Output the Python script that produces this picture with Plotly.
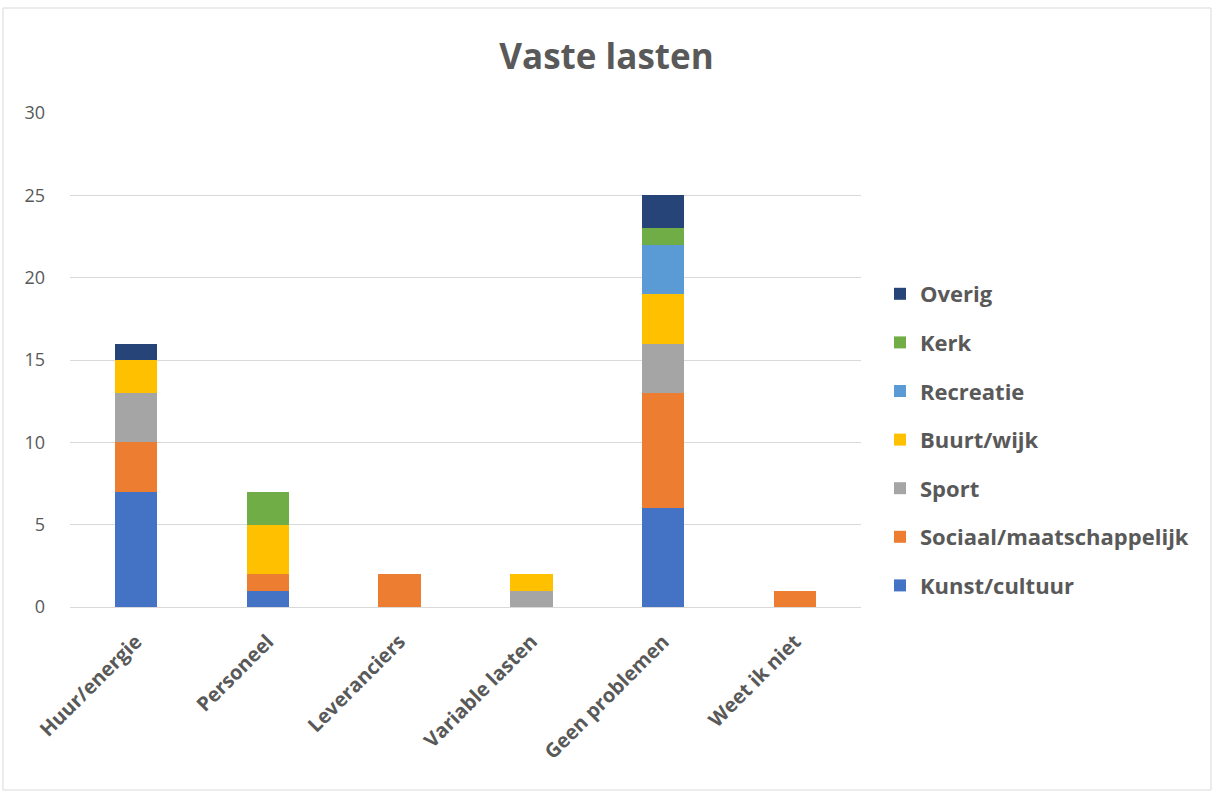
import plotly.graph_objects as go

categories = ["Huur/energie", "Personeel", "Leveranciers", "Variable lasten", "Geen problemen", "Weet ik niet"]
kunst = [7, 1, 0, 0, 6, 0]
sociaal = [3, 1, 2, 0, 7, 1]
sport = [3, 0, 0, 1, 3, 0]
buurt = [2, 3, 0, 1, 3, 0]
recreatie = [0, 0, 0, 0, 3, 0]
kerk = [0, 2, 0, 0, 1, 0]
overig = [1, 0, 0, 0, 2, 0]

series = [
    ("Kunst/cultuur", kunst, "#4472C4"),
    ("Sociaal/maatschappelijk", sociaal, "#ED7D31"),
    ("Sport", sport, "#A5A5A5"),
    ("Buurt/wijk", buurt, "#FFC000"),
    ("Recreatie", recreatie, "#5B9BD5"),
    ("Kerk", kerk, "#70AD47"),
    ("Overig", overig, "#264478"),
]

fig = go.Figure()
for i, (name, vals, col) in enumerate(series):
    fig.add_trace(go.Bar(name=name, x=categories, y=vals, marker=dict(color=col, line=dict(width=0)),
                         legendgroup=name, legendrank=1000 - i))

W, H = 1213, 792
l, r, t, b = 70, W - 861, 113, H - 607
pw, ph = W - l - r, H - t - b

fig.update_layout(
    width=W, height=H,
    barmode="stack", bargap=0.68,
    plot_bgcolor="white", paper_bgcolor="white",
    margin=dict(l=l, r=r, t=t, b=b),
    font=dict(family="Open Sans", color="#595959"),
    title=dict(text="<b>Vaste lasten</b>", x=0.5, xref="container", y=1 - 57 / H, yanchor="middle",
               font=dict(size=35, color="#595959")),
    legend=dict(traceorder="grouped", tracegroupgap=17, x=1 + (880 - 861) / pw, xanchor="left",
                y=(607 - 440) / ph, yanchor="middle",
                font=dict(size=22, color="#595959", family="Open Sans", weight="bold"),
                itemwidth=30),
    xaxis=dict(tickangle=-45, tickfont=dict(size=20, color="#595959", family="Open Sans", weight="bold"),
               showline=True, linecolor="#d9d9d9", linewidth=1, ticks="", ticklabelstandoff=14),
    yaxis=dict(range=[0, 30], dtick=5, gridcolor="#d9d9d9", gridwidth=1, zeroline=False,
               tickfont=dict(size=18, color="#595959"), ticks="", ticklabelstandoff=24),
    shapes=[dict(type="rect", xref="paper", yref="paper",
                 x0=(3 - l) / pw, x1=(W - 2 - l) / pw,
                 y0=-(H - 607 - 2) / ph, y1=1 + (t - 8) / ph,
                 line=dict(color="#d9d9d9", width=1), fillcolor="rgba(0,0,0,0)", layer="below")],
)

fig.write_html("out.html", config={"displayModeBar": False},
               post_script="document.body.style.margin='0px';")
